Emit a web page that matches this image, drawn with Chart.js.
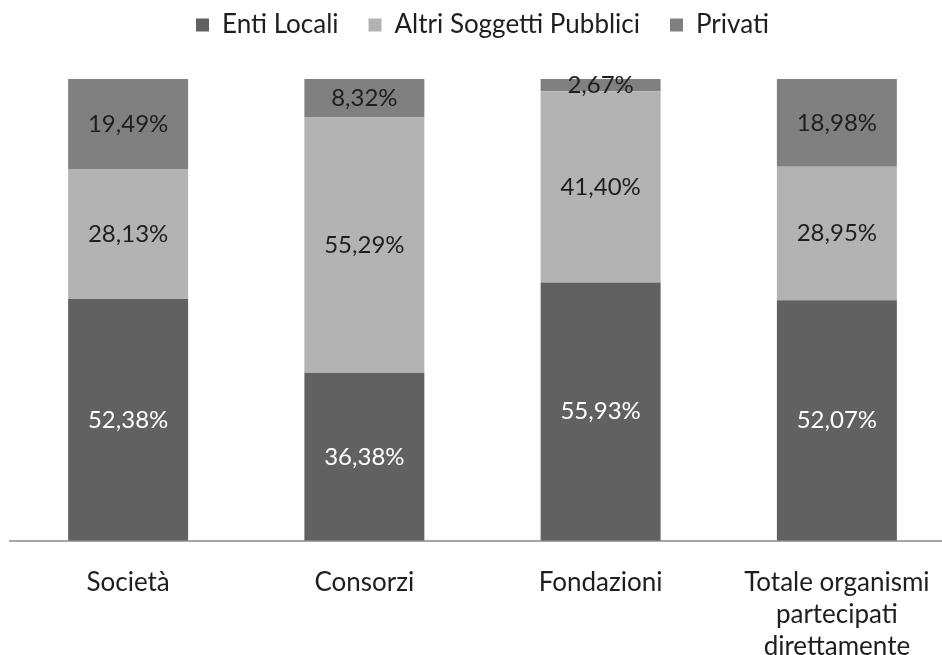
<!DOCTYPE html>
<html>
<head>
<meta charset="utf-8">
<script src="https://cdn.jsdelivr.net/npm/chart.js@4"></script>
<style>
html,body{margin:0;padding:0;background:#fff;overflow:hidden;}
#wrap{width:962px;height:688px;position:relative;}
</style>
</head>
<body>
<div id="wrap"><canvas id="c"></canvas></div>
<script>
const categories = ["Società", "Consorzi", "Fondazioni", ["Totale organismi", "partecipati", "direttamente"]];
const seriesNames = ["Enti Locali", "Altri Soggetti Pubblici", "Privati"];
const entiLocali = [52.38, 36.38, 55.93, 52.07];
const altriSoggetti = [28.13, 55.29, 41.40, 28.95];
const privati = [19.49, 8.32, 2.67, 18.98];
const colors = ["#616161", "#b3b3b3", "#808080"];
const labelColors = ["#ffffff", "#1e1e1e", "#1e1e1e"];

const FONT = "Lato, 'Open Sans', sans-serif";

const labelPlugin = {
  id: 'segLabels',
  afterDatasetsDraw(chart) {
    const ctx = chart.ctx;
    ctx.save();
    ctx.font = "24px " + FONT;
    ctx.textAlign = "center";
    ctx.textBaseline = "middle";
    chart.data.datasets.forEach((ds, di) => {
      const meta = chart.getDatasetMeta(di);
      meta.data.forEach((el, i) => {
        const v = ds.data[i];
        const y = (el.y + el.base) / 2;
        ctx.fillStyle = labelColors[di];
        ctx.fillText(v.toFixed(2).replace('.', ',') + '%', el.x, y);
      });
    });
    ctx.restore();
  }
};

const legendHeight = {
  id: 'legendHeight',
  beforeInit(chart) {
    const orig = chart.legend.fit;
    chart.legend.fit = function () {
      orig.bind(this)();
      this.height = 97;
    };
  }
};

new Chart(document.getElementById('c'), {
  type: 'bar',
  data: {
    labels: categories,
    datasets: [
      { label: seriesNames[0], data: entiLocali, backgroundColor: colors[0] },
      { label: seriesNames[1], data: altriSoggetti, backgroundColor: colors[1] },
      { label: seriesNames[2], data: privati, backgroundColor: colors[2] }
    ]
  },
  options: {
    responsive: true,
    maintainAspectRatio: false,
    animation: false,
    layout: { padding: { left: 10, right: 7, top: -18, bottom: 0 } },
    datasets: { bar: { barPercentage: 1, categoryPercentage: 120 / 236.3 } },
    plugins: {
      legend: {
        position: 'top',
        labels: {
          font: { family: FONT, size: 26 },
          color: '#1e1e1e',
          boxWidth: 13,
          boxHeight: 13,
          padding: 30
        }
      },
      tooltip: { enabled: false }
    },
    scales: {
      x: {
        stacked: true,
        grid: { display: false, drawTicks: false },
        border: { display: true, color: '#a6a6a6', width: 2 },
        ticks: {
          font: { family: FONT, size: 26, lineHeight: 1.22 },
          color: '#1e1e1e',
          padding: 26,
          maxRotation: 0,
          autoSkip: false
        }
      },
      y: {
        stacked: true,
        display: false,
        min: 0,
        max: 100
      }
    }
  },
  plugins: [labelPlugin, legendHeight]
});
</script>
</body>
</html>
